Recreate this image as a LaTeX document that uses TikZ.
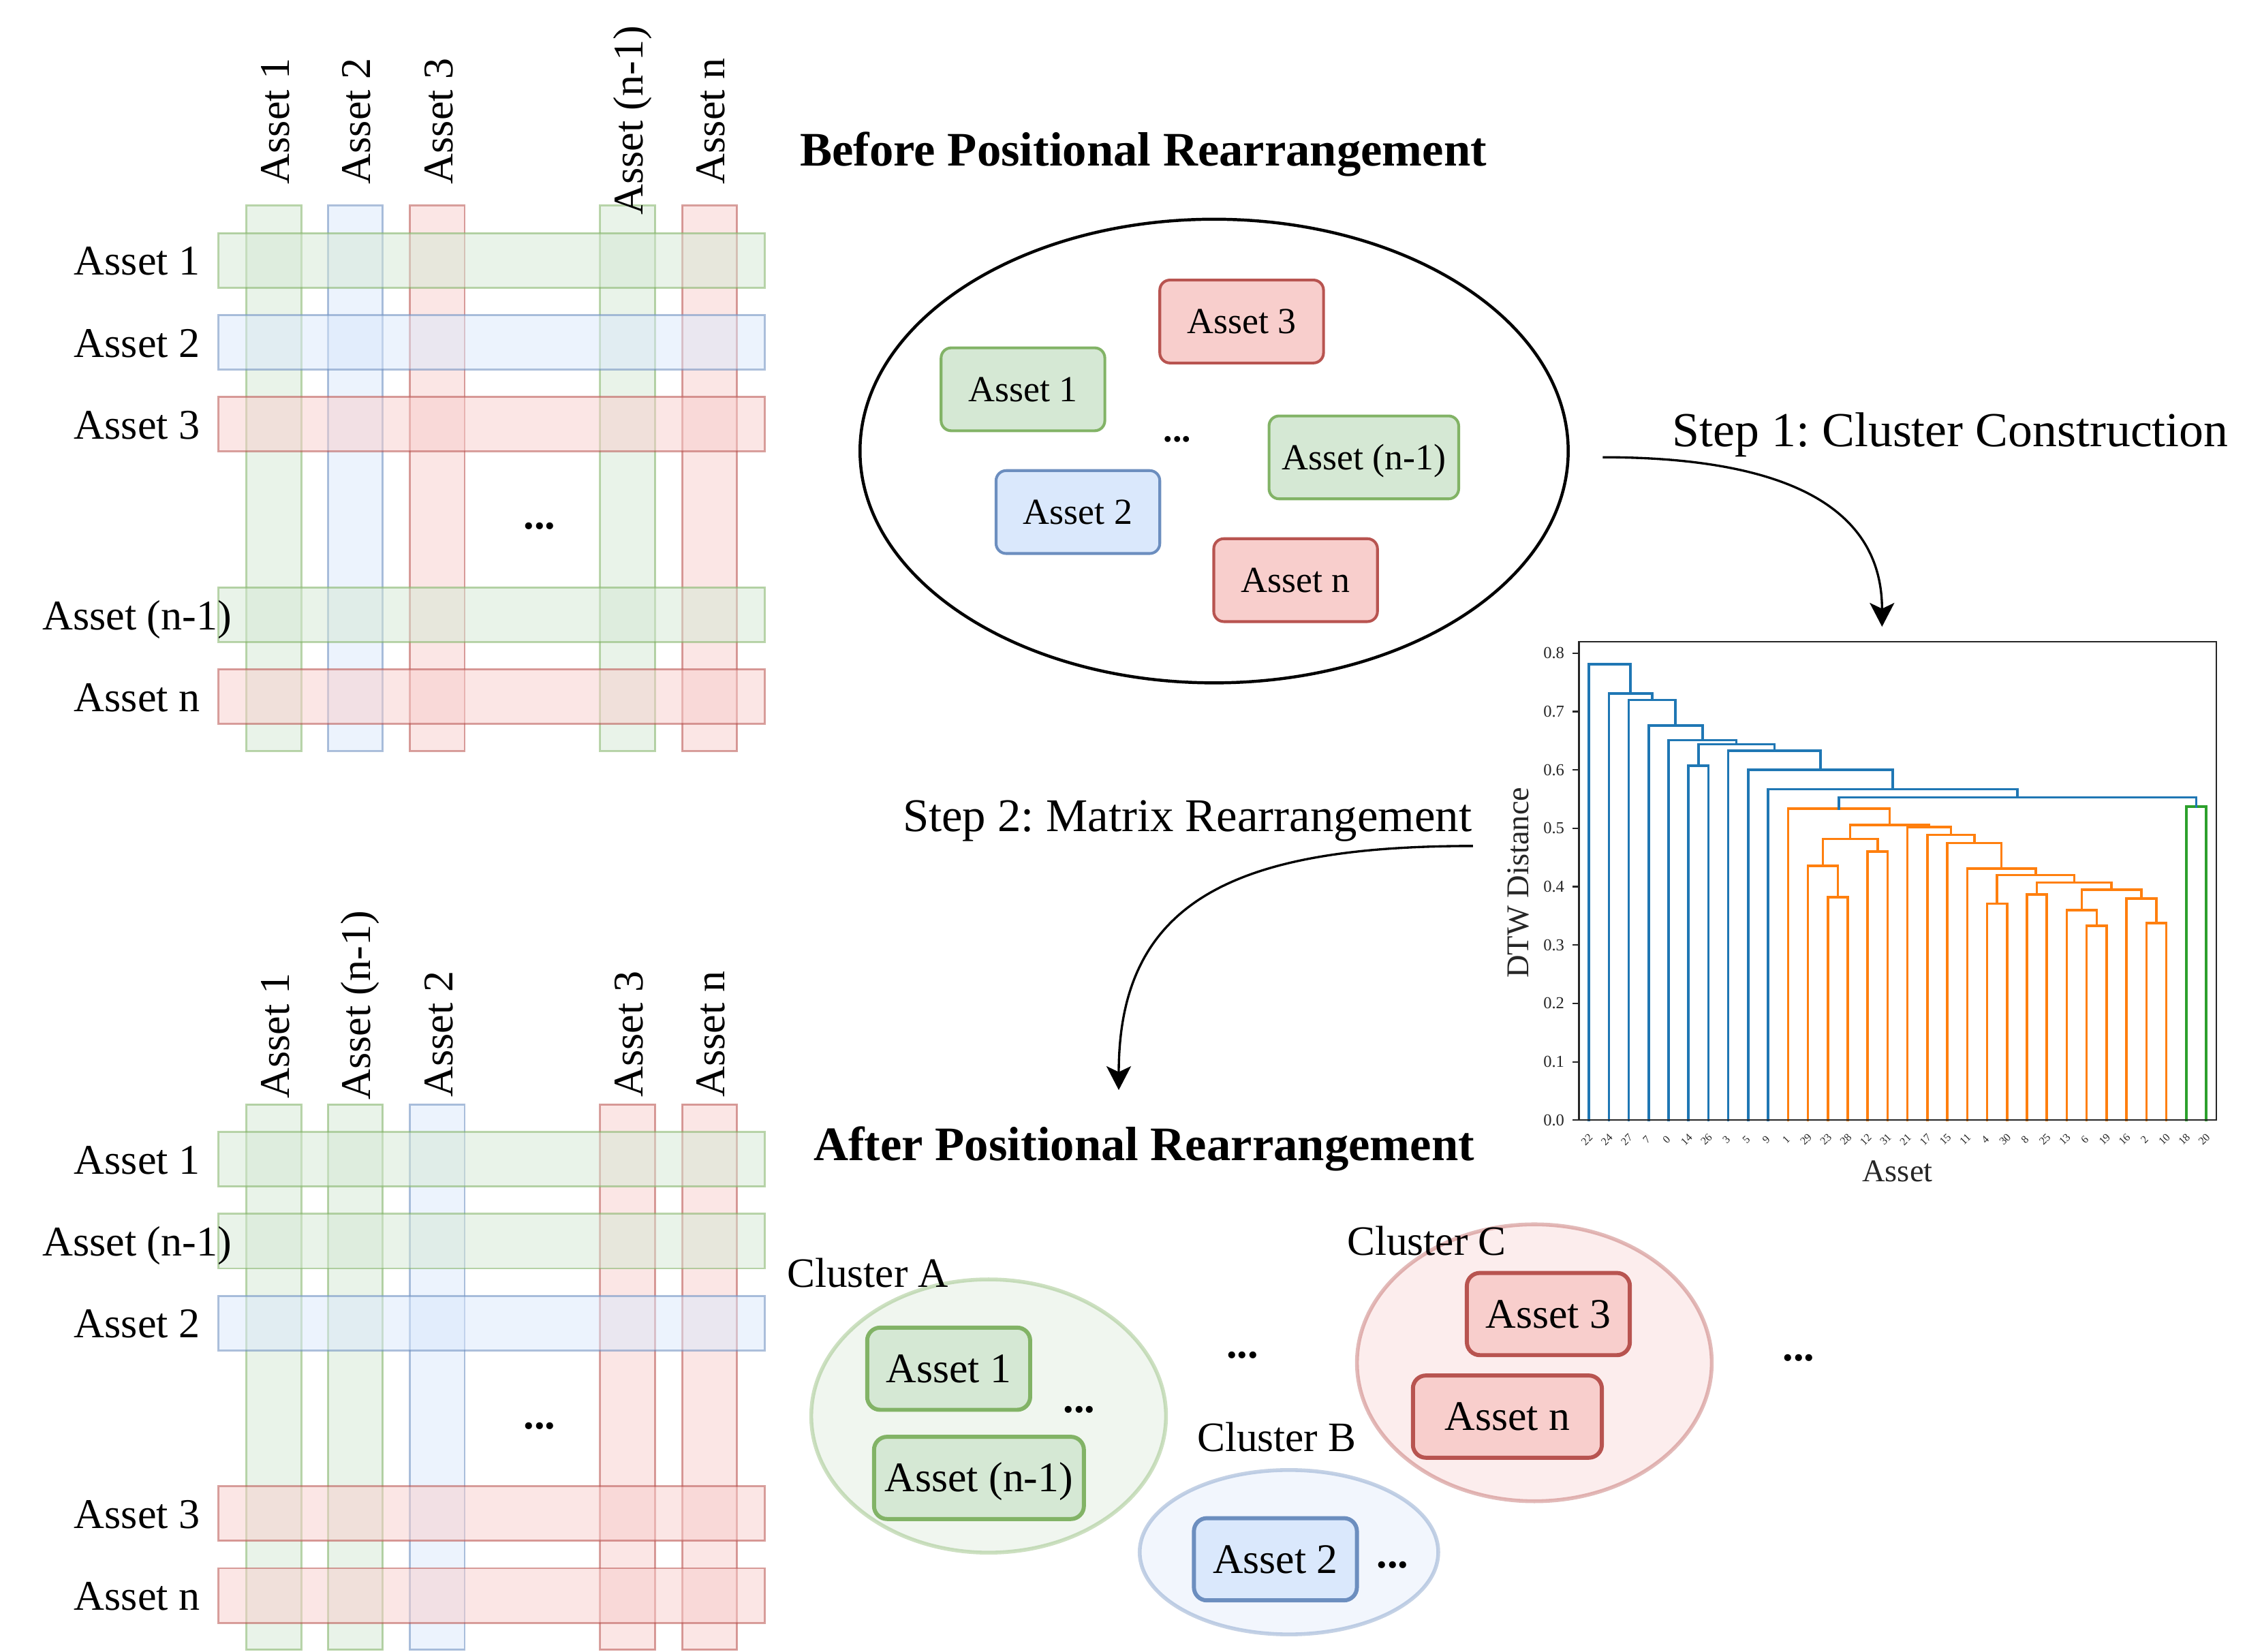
\documentclass[tikz,border=0pt]{standalone}
\usepackage{fontspec}
\setmainfont{Liberation Serif}
\usepackage{tikz}
\usepackage{xcolor}
\usetikzlibrary{arrows.meta,positioning,shapes,calc}
\frenchspacing
\definecolor{fillgreen}{HTML}{D5E8D4}
\definecolor{linegreen}{HTML}{82B366}
\definecolor{fillblue}{HTML}{DAE8FC}
\definecolor{lineblue}{HTML}{6C8EBF}
\definecolor{fillred}{HTML}{F8CECC}
\definecolor{linered}{HTML}{B85450}
\definecolor{mplblue}{HTML}{1F77B4}
\definecolor{mplorange}{HTML}{FF7F0E}
\definecolor{mplgreen}{HTML}{2CA02C}
\definecolor{axisink}{HTML}{262626}
\tikzset{
  assetcard/.style={
    rounded corners=0.14cm, line width=1.1pt, inner sep=0pt,
    minimum width=2.27cm, minimum height=1.15cm,
    text height=9.6pt, text depth=0pt,
    font=\fontsize{14.5}{16}\selectfont
  },
  greencard/.style={assetcard, draw=linegreen, fill=fillgreen},
  bluecard/.style={assetcard, draw=lineblue, fill=fillblue},
  redcard/.style={assetcard, draw=linered, fill=fillred},
  clustercard/.style={
    rounded corners=0.18cm, line width=1.6pt, inner sep=0pt,
    minimum width=2.26cm, minimum height=1.14cm,
    text height=11pt, text depth=0pt,
    font=\fontsize{16.6}{18}\selectfont
  },
  greentile/.style={clustercard, draw=linegreen, fill=fillgreen},
  bluetile/.style={clustercard, draw=lineblue, fill=fillblue},
  redtile/.style={clustercard, draw=linered, fill=fillred},
  band/.style={line width=0.8pt, draw=line#1, fill=fill#1, fill opacity=0.5, draw opacity=0.55},
  blob/.style={ellipse, line width=1.5pt, draw=line#1, fill=fill#1, fill opacity=0.35, draw opacity=0.4, inner sep=0pt},
  poolring/.style={ellipse, draw=black, line width=1.2pt, inner sep=0pt,
    minimum width=9.82cm, minimum height=6.43cm},
  axlabel/.style={anchor=base, inner sep=0pt, font=\fontsize{16.7}{18}\selectfont},
  collabel/.style={axlabel, rotate=90},
  heading/.style={anchor=base, inner sep=0pt, font=\bfseries\fontsize{19}{22}\selectfont},
  steplabel/.style={anchor=base, inner sep=0pt, font=\fontsize{19.3}{22}\selectfont},
  clusterlabel/.style={anchor=base, inner sep=0pt, font=\fontsize{16.5}{18}\selectfont},
  moredots/.style={anchor=base, inner sep=0pt, font=\bfseries\fontsize{16.7}{18}\selectfont},
  flowarrow/.style={-{Stealth[length=0.33cm, width=0.34cm, inset=0.08cm]}, line width=0.9pt},
  dlink/.style={line width=0.95pt, line cap=rect},
  axisline/.style={draw=axisink, line width=0.6pt},
  yticklab/.style={anchor=east, inner sep=0pt, text=axisink, font=\fontsize{6.6}{7}\selectfont},
  xticklab/.style={rotate=45, inner sep=0pt, text=axisink, font=\fontsize{4.3}{5}\selectfont},
  plotlabel/.style={anchor=base, inner sep=0pt, text=axisink, font=\fontsize{12.5}{14}\selectfont}
}
\begin{document}
\begin{tikzpicture}[x=0.02cm, y=-0.02cm]
  \path[fill=white, use as bounding box] (0,0) rectangle (1568,1145);

  % matrix before rearrangement
  \foreach \x/\c in {170.8/green,227.2/blue,284/red,416/green,472.8/red}
    \draw[band=\c] (\x,142.4) rectangle (\x+38.1,520.5);
  \foreach \y/\c in {161.6/green,218.3/blue,275/red,407.2/green,463.9/red}
    \draw[band=\c] (151.4,\y) rectangle (530,\y+37.8);
  \foreach \y/\t [count=\k] in {180.5/Asset 1,237.2/Asset 2,293.9/Asset 3,426.1/Asset (n-1),482.8/Asset n}
    \node[axlabel] (rowa\k) at (95,\y+10.3) {\t};
  \foreach \x/\y/\t [count=\k] in {189.85/84/Asset 1,246.25/84/Asset 2,303.1/84/Asset 3,435.05/83.5/Asset (n-1),491.85/84/Asset n}
    \node[collabel] (cola\k) at (\x+10.5,\y) {\t};
  \node[moredots] (dotsa) at (374,366.8) {...};

  % matrix after rearrangement
  \foreach \x/\c in {170.8/green,227.2/green,284/blue,416/red,472.8/red}
    \draw[band=\c] (\x,765.7) rectangle (\x+38.1,1143.8);
  \foreach \y/\c in {784.9/green,841.6/green,898.3/blue,1030.5/red,1087.2/red}
    \draw[band=\c] (151.4,\y) rectangle (530,\y+37.8);
  \foreach \y/\t [count=\k] in {803.8/Asset 1,860.5/Asset (n-1),917.2/Asset 2,1049.4/Asset 3,1106.1/Asset n}
    \node[axlabel] (rowb\k) at (95,\y+10.3) {\t};
  \foreach \x/\y/\t [count=\k] in {189.85/718/Asset 1,246.25/697/Asset (n-1),303.1/717/Asset 2,435.05/717/Asset 3,491.85/717/Asset n}
    \node[collabel] (colb\k) at (\x+10.5,\y) {\t};
  \node[moredots] (dotsb) at (374,990.5) {...};

  % titles and steps
  \node[heading] (before) at (792.6,114.9) {Before Positional Rearrangement};
  \node[heading] (after) at (793,804.5) {After Positional Rearrangement};
  \node[steplabel] (step1) at (1352,309.4) {Step 1: Cluster Construction};
  \node[steplabel, font=\fontsize{18.5}{22}\selectfont] (step2) at (823,576.2) {Step 2: Matrix Rearrangement};

  % asset pool
  \node[poolring] (pool) at (841.6,312.7) {};
  \node[greencard] (pa1) at (709.1,269.9) {Asset 1};
  \node[bluecard] (pa2) at (747.2,355) {Asset 2};
  \node[redcard] (pa3) at (860.7,222.9) {Asset 3};
  \node[greencard, minimum width=2.63cm] (pan1) at (945.4,317.1) {Asset (n-1)};
  \node[redcard] (pan) at (898.1,402.2) {Asset n};
  \node[moredots, font=\bfseries\fontsize{14.5}{16}\selectfont] (dotsp) at (816.1,306.2) {...};

  % clusters
  \node[blob=green, minimum width=4.92cm, minimum height=3.79cm] (clA) at (685.3,981.7) {};
  \node[blob=blue, minimum width=4.14cm, minimum height=2.28cm] (clB) at (893.5,1076.1) {};
  \node[blob=red, minimum width=4.92cm, minimum height=3.84cm] (clC) at (1063.6,944.8) {};
  \node[clusterlabel] (labA) at (601.5,892.5) {Cluster A};
  \node[clusterlabel] (labB) at (885,1006.3) {Cluster B};
  \node[clusterlabel] (labC) at (989,870.2) {Cluster C};
  \node[greentile] (ca1) at (657.6,948.9) {Asset 1};
  \node[greentile, minimum width=2.91cm] (can1) at (678.6,1024.6) {Asset (n-1)};
  \node[bluetile] (cb2) at (884.1,1081) {Asset 2};
  \node[redtile] (cc3) at (1073.3,911) {Asset 3};
  \node[redtile, minimum width=2.62cm] (ccn) at (1044.9,982.1) {Asset n};
  \node[moredots] (dotsA) at (748,979.3) {...};
  \node[moredots] (dotsB) at (965.3,1086.9) {...};
  \node[moredots] (dotsAB) at (861.2,941.3) {...};
  \node[moredots] (dotsC) at (1246.8,943.3) {...};

  % dendrogram
  \coordinate (dorigin) at (1101.4,776.6);
  \begin{scope}[shift={(dorigin)}, x=0.2761cm, y=8.095cm]
    \foreach \xl/\yl/\xr/\yr/\h in {
      12/0/13/0/.382, 11/0/12.5/.382/.436, 14/0/15/0/.460,
      11.75/.436/14.5/.460/.482, 25/0/26/0/.333, 24/0/25.5/.333/.360,
      28/0/29/0/.338, 27/0/28.5/.338/.380, 24.75/.360/27.75/.380/.395,
      22/0/23/0/.387, 22.5/.387/26.25/.395/.407, 20/0/21/0/.371,
      20.5/.371/24.375/.407/.420, 19/0/22.4375/.420/.431,
      18/0/20.71875/.431/.475, 17/0/19.359/.475/.489,
      16/0/18.180/.489/.502, 13.125/.482/17.090/.502/.506,
      10/0/15.107/.506/.534}
      \draw[dlink, mplorange] (\xl,\yl) |- (\xr,\h) -- (\xr,\yr);
    \draw[dlink, mplgreen] (30,0) |- (31,.537) -- (31,0);
    \foreach \xl/\yl/\xr/\yr/\h in {
      12.554/.534/30.5/.537/.553, 9/0/21.527/.553/.567,
      8/0/15.263/.567/.600, 7/0/11.632/.600/.633,
      5/0/6/0/.607, 5.5/.607/9.316/.633/.644,
      4/0/7.408/.644/.651, 3/0/5.704/.651/.676,
      2/0/4.352/.676/.720, 1/0/3.176/.720/.731, 0/0/2.088/.731/.781}
      \draw[dlink, mplblue] (\xl,\yl) |- (\xr,\h) -- (\xr,\yr);
    \draw[axisline] (-0.5,0) rectangle (31.5,0.82);
    \foreach \t [count=\k] in {0.0,0.1,0.2,0.3,0.4,0.5,0.6,0.7,0.8} {
      \draw[axisline] (-0.5,\t) -- (-0.808,\t);
      \node[yticklab] (ytick\k) at (-1.21,\t) {\t};
    }
    \foreach \lab [count=\k from 0] in {22,24,27,7,0,14,26,3,5,9,1,29,23,28,12,31,21,17,15,11,4,30,8,25,13,6,19,16,2,10,18,20}
      \node[xticklab] (xtick\k) at (\k-0.1,-0.033) {\lab};
  \end{scope}
  \node[plotlabel, rotate=90] (ylab) at (1059.4,611.9) {DTW Distance};
  \node[plotlabel] (xlab) at (1315.3,819.1) {Asset};

  % steps
  \coordinate (s1a) at (1111,317);
  \coordinate (s1b) at (1304.6,434.5);
  \draw[flowarrow] (s1a) .. controls (1235,317) and (1304.6,350) .. (s1b);
  \coordinate (s2a) at (1021,586.5);
  \coordinate (s2b) at (775.5,755.7);
  \draw[flowarrow] (s2a) .. controls (855,586.5) and (775.5,625) .. (s2b);
\end{tikzpicture}
\end{document}
